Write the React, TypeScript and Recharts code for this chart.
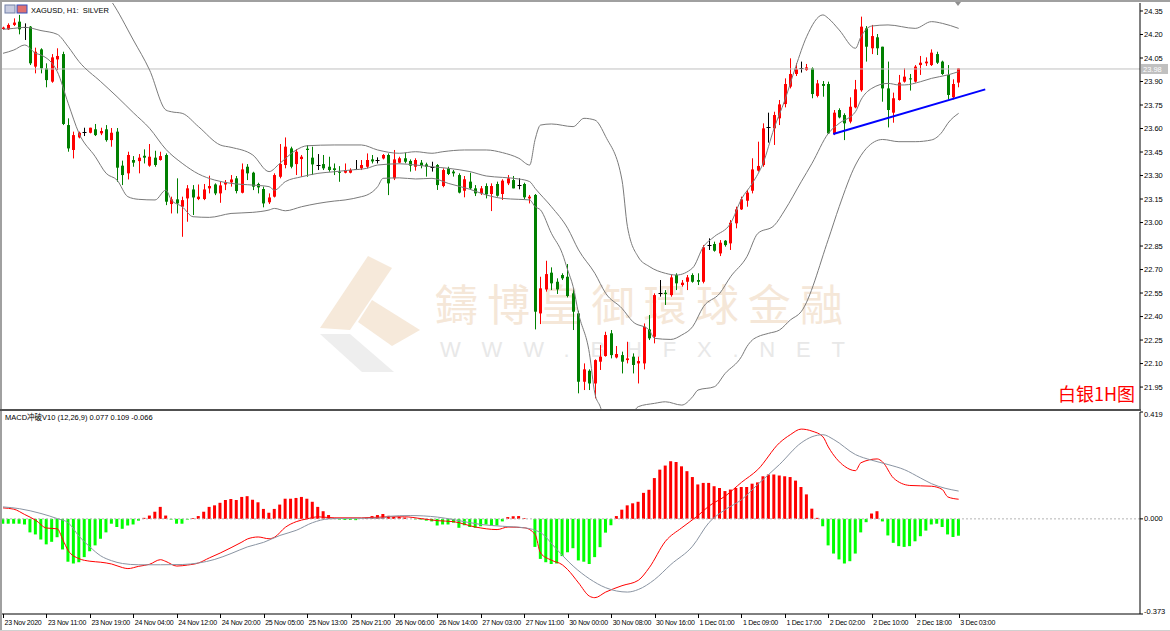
import React from "react";
import { ComposedChart, Bar, Line, XAxis, YAxis, ReferenceLine, Cell } from "recharts";

// XAGUSD H1 candles, bar 0 = 23 Nov 03:00 ... bar 176 = 3 Dec 03:00
const opens = [
  24.235, 24.233, 24.261, 24.282, 24.246, 24.25, 23.995, 24.105, 23.984, 23.899,
  24.041, 24.075, 23.622, 23.463, 23.543, 23.58, 23.573, 23.595, 23.569, 23.595,
  23.526, 23.58, 23.363, 23.314, 23.399, 23.392, 23.426, 23.363, 23.414, 23.399,
  23.431, 23.118, 23.148, 23.101, 23.154, 23.211, 23.15, 23.15, 23.218, 23.243,
  23.186, 23.243, 23.256, 23.282, 23.19, 23.356, 23.318, 23.246, 23.214, 23.129,
  23.165, 23.292, 23.367, 23.473, 23.373, 23.405, 23.471, 23.414, 23.367, 23.373,
  23.356, 23.346, 23.324, 23.318, 23.318, 23.339, 23.346, 23.356, 23.403, 23.399,
  23.409, 23.431, 23.282, 23.382, 23.41, 23.393, 23.356, 23.382, 23.371, 23.356,
  23.367, 23.233, 23.346, 23.325, 23.303, 23.203, 23.261, 23.218, 23.186, 23.233,
  23.182, 23.246, 23.182, 23.25, 23.271, 23.239, 23.246, 23.154, 23.176, 22.42,
  22.573, 22.68, 22.622, 22.665, 22.654, 22.548, 22.42, 21.984, 22.054, 21.973,
  22.112, 22.148, 22.293, 22.139, 22.154, 22.122, 22.144, 22.101, 22.101, 22.318,
  22.271, 22.548, 22.552, 22.537, 22.665, 22.601, 22.622, 22.665, 22.633, 22.622,
  22.856, 22.863, 22.803, 22.884, 22.867, 22.995, 23.084, 23.139, 23.203, 23.331,
  23.367, 23.612, 23.601, 23.665, 23.756, 23.867, 23.948, 23.984, 23.973, 23.984,
  23.808, 23.884, 23.884, 23.565, 23.718, 23.686, 23.644, 23.735, 23.844, 24.239,
  24.112, 24.182, 24.122, 23.856, 23.701, 23.782, 23.899, 23.92, 23.899, 24.005,
  24.016, 24.005, 24.075, 24.027, 23.942, 23.799, 23.893,
];
const highs = [
  24.25, 24.271, 24.303, 24.325, 24.271, 24.254, 24.116, 24.112, 24.016, 24.075,
  24.112, 24.09, 23.665, 23.58, 23.58, 23.605, 23.605, 23.629, 23.605, 23.622,
  23.603, 23.603, 23.395, 23.452, 23.424, 23.437, 23.467, 23.501, 23.458, 23.452,
  23.441, 23.165, 23.282, 23.165, 23.239, 23.239, 23.243, 23.246, 23.299, 23.25,
  23.26, 23.271, 23.303, 23.297, 23.377, 23.373, 23.324, 23.254, 23.229, 23.186,
  23.314, 23.501, 23.543, 23.484, 23.469, 23.431, 23.494, 23.484, 23.437, 23.431,
  23.42, 23.377, 23.36, 23.377, 23.346, 23.399, 23.399, 23.441, 23.431, 23.416,
  23.437, 23.441, 23.463, 23.42, 23.446, 23.403, 23.41, 23.399, 23.382, 23.388,
  23.373, 23.346, 23.356, 23.335, 23.314, 23.297, 23.318, 23.239, 23.233, 23.25,
  23.25, 23.261, 23.276, 23.303, 23.297, 23.282, 23.254, 23.176, 23.182, 22.654,
  22.756, 22.714, 22.644, 22.676, 22.735, 22.573, 22.437, 22.101, 22.063, 22.127,
  22.218, 22.303, 22.314, 22.212, 22.176, 22.239, 22.165, 22.144, 22.356, 22.41,
  22.548, 22.633, 22.569, 22.665, 22.676, 22.633, 22.665, 22.676, 22.676, 22.856,
  22.899, 22.878, 22.888, 22.888, 23.016, 23.101, 23.165, 23.208, 23.41, 23.516,
  23.633, 23.701, 23.707, 23.782, 23.92, 24.048, 24.016, 24.027, 24.012, 23.99,
  23.91, 23.903, 23.899, 23.718, 23.729, 23.697, 23.799, 23.91, 24.314, 24.254,
  24.261, 24.203, 24.122, 24.027, 23.829, 23.942, 23.984, 23.948, 24.005, 24.063,
  24.054, 24.105, 24.09, 24.033, 24.005, 23.914, 23.984,
];
const lows = [
  24.23, 24.229, 24.254, 24.201, 24.165, 24.005, 23.952, 23.952, 23.863, 23.892,
  23.973, 23.622, 23.452, 23.409, 23.537, 23.552, 23.569, 23.552, 23.558, 23.516,
  23.484, 23.26, 23.239, 23.275, 23.356, 23.314, 23.377, 23.356, 23.356, 23.395,
  23.111, 23.058, 23.058, 22.909, 23.005, 23.048, 23.143, 23.143, 23.186, 23.175,
  23.126, 23.207, 23.229, 23.186, 23.186, 23.271, 23.207, 23.186, 23.097, 23.118,
  23.16, 23.282, 23.346, 23.346, 23.303, 23.292, 23.292, 23.303, 23.335, 23.335,
  23.324, 23.303, 23.26, 23.314, 23.314, 23.335, 23.335, 23.346, 23.377, 23.377,
  23.403, 23.175, 23.271, 23.378, 23.378, 23.325, 23.331, 23.346, 23.293, 23.325,
  23.208, 23.225, 23.303, 23.293, 23.186, 23.161, 23.208, 23.169, 23.176, 23.154,
  23.073, 23.165, 23.144, 23.239, 23.218, 23.212, 23.148, 23.122, 22.318, 22.352,
  22.559, 22.569, 22.544, 22.633, 22.522, 22.314, 21.91, 21.931, 21.931, 21.878,
  22.059, 22.144, 22.133, 22.133, 22.037, 22.101, 22.037, 21.973, 22.063, 22.25,
  22.229, 22.527, 22.474, 22.527, 22.569, 22.591, 22.569, 22.616, 22.601, 22.612,
  22.825, 22.814, 22.786, 22.846, 22.825, 22.963, 23.08, 23.101, 23.186, 23.325,
  23.356, 23.51, 23.495, 23.622, 23.735, 23.856, 23.935, 23.957, 23.969, 23.793,
  23.799, 23.803, 23.565, 23.558, 23.665, 23.526, 23.633, 23.729, 23.835, 24.027,
  24.075, 24.069, 23.771, 23.607, 23.637, 23.778, 23.893, 23.842, 23.893, 23.942,
  23.999, 23.999, 24.012, 23.942, 23.786, 23.786, 23.863,
];
const closes = [
  24.244, 24.261, 24.276, 24.233, 24.246, 24.016, 24.09, 23.984, 23.909, 24.054,
  24.063, 23.629, 23.473, 23.558, 23.573, 23.58, 23.605, 23.558, 23.584, 23.526,
  23.573, 23.35, 23.303, 23.431, 23.382, 23.414, 23.414, 23.42, 23.367, 23.424,
  23.133, 23.148, 23.122, 23.143, 23.218, 23.16, 23.165, 23.211, 23.233, 23.186,
  23.237, 23.256, 23.275, 23.201, 23.339, 23.314, 23.229, 23.224, 23.122, 23.16,
  23.303, 23.373, 23.484, 23.356, 23.452, 23.42, 23.463, 23.371, 23.367, 23.346,
  23.335, 23.335, 23.318, 23.335, 23.335, 23.339, 23.367, 23.399, 23.39, 23.399,
  23.431, 23.25, 23.403, 23.41, 23.388, 23.363, 23.399, 23.363, 23.356, 23.356,
  23.239, 23.335, 23.31, 23.314, 23.191, 23.276, 23.218, 23.186, 23.218, 23.18,
  23.233, 23.171, 23.267, 23.282, 23.218, 23.239, 23.161, 23.165, 22.431, 22.58,
  22.671, 22.612, 22.573, 22.644, 22.531, 22.431, 21.984, 22.063, 21.973, 22.122,
  22.144, 22.282, 22.154, 22.161, 22.112, 22.133, 22.091, 22.116, 22.335, 22.261,
  22.537, 22.548, 22.544, 22.65, 22.612, 22.616, 22.65, 22.622, 22.622, 22.842,
  22.856, 22.82, 22.871, 22.856, 22.999, 23.084, 23.148, 23.191, 23.339, 23.361,
  23.601, 23.612, 23.686, 23.754, 23.884, 23.948, 23.978, 23.984, 23.99, 23.82,
  23.888, 23.872, 23.569, 23.701, 23.671, 23.633, 23.739, 23.85, 24.25, 24.122,
  24.19, 24.112, 23.856, 23.718, 23.793, 23.893, 23.931, 23.914, 23.995, 24.02,
  24.027, 24.084, 24.02, 23.948, 23.814, 23.884, 23.984,
];

// Bollinger bands (20), read as [bar, price]
const bbUpper: [number, number][] = [
  [18, 24.5], [20, 24.41], [24, 24.165], [27, 23.973], [30, 23.718], [31, 23.707], [33, 23.697],
  [36, 23.612], [40, 23.495], [42, 23.48], [46, 23.431], [49, 23.325], [51, 23.378], [54, 23.463],
  [56, 23.49], [61, 23.495], [66, 23.495], [69, 23.463], [73, 23.442], [76, 23.452], [79, 23.442],
  [81, 23.452], [85, 23.463], [89, 23.463], [92, 23.446], [95, 23.41], [97, 23.367], [98, 23.53],
  [99, 23.622], [101, 23.629], [105, 23.612], [107, 23.665], [109, 23.654], [111, 23.548],
  [114, 23.271], [115, 22.974], [117, 22.78], [119, 22.72], [122, 22.676], [124, 22.665],
  [127, 22.71], [129, 22.846], [131, 22.91], [134, 22.995], [136, 23.15], [138, 23.25],
  [140, 23.38], [142, 23.6], [144, 23.782], [146, 23.995], [148, 24.186], [151, 24.325],
  [152, 24.303], [154, 24.229], [157, 24.112], [158, 24.186], [160, 24.254], [163, 24.261],
  [168, 24.239], [171, 24.282], [173, 24.271], [176, 24.239],
];
const bbMiddle: [number, number][] = [
  [0, 24.233], [2, 24.239], [4, 24.246], [7, 24.225], [10, 24.201], [12, 24.122], [14, 24.027],
  [18, 23.899], [21, 23.803], [24, 23.701], [27, 23.601], [30, 23.467], [33, 23.378], [36, 23.31],
  [39, 23.271], [42, 23.25], [46, 23.239], [49, 23.229], [50, 23.207], [52, 23.261], [55, 23.292],
  [58, 23.314], [61, 23.324], [64, 23.335], [67, 23.346], [69, 23.367], [73, 23.375], [76, 23.367],
  [79, 23.356], [82, 23.346], [86, 23.325], [89, 23.297], [92, 23.288], [95, 23.278], [97, 23.261],
  [98, 23.218], [101, 23.101], [104, 22.963], [106, 22.825], [109, 22.676], [111, 22.548],
  [114, 22.452], [116, 22.367], [119, 22.314], [120, 22.261], [123, 22.254], [125, 22.282],
  [127, 22.335], [129, 22.463], [132, 22.548], [134, 22.654], [137, 22.782], [139, 22.93],
  [142, 22.98], [144, 23.08], [147, 23.26], [149, 23.378], [152, 23.569], [154, 23.633],
  [157, 23.707], [158, 23.782], [160, 23.856], [163, 23.888], [165, 23.878], [166, 23.878],
  [169, 23.899], [171, 23.92], [174, 23.942], [176, 23.963],
];
const bbLower: [number, number][] = [
  [0, 24.08], [2, 24.101], [4, 24.133], [6, 24.08], [7, 24.069], [10, 23.963], [12, 23.761],
  [14, 23.569], [17, 23.42], [19, 23.314], [21, 23.271], [23, 23.165], [25, 23.148], [28, 23.144],
  [30, 23.207], [31, 23.144], [33, 23.101], [35, 23.037], [38, 23.033], [42, 23.058], [46, 23.065],
  [49, 23.08], [50, 23.09], [52, 23.075], [55, 23.101], [58, 23.122], [61, 23.137], [63, 23.144],
  [66, 23.165], [67, 23.175], [69, 23.229], [70, 23.282], [73, 23.285], [76, 23.278], [79, 23.282],
  [82, 23.25], [86, 23.212], [89, 23.176], [92, 23.154], [95, 23.148], [97, 23.144], [98, 23.101],
  [99, 23.08], [101, 22.931], [103, 22.803], [104, 22.697], [105, 22.591], [106, 22.42],
  [108, 22.165], [109, 21.91], [110, 21.825], [111, 21.72], [113, 21.68], [115, 21.72],
  [117, 21.825], [120, 21.846], [122, 21.856], [125, 21.835], [127, 21.888], [128, 21.931],
  [131, 21.952], [133, 22.037], [136, 22.144], [137, 22.208], [138, 22.25], [139, 22.271],
  [141, 22.293], [143, 22.314], [145, 22.378], [147, 22.431], [152, 22.893], [154, 23.101],
  [157, 23.367], [159, 23.473], [162, 23.53], [165, 23.516], [168, 23.516], [171, 23.527],
  [173, 23.58], [174, 23.633], [176, 23.697],
];

// MACD histogram, one per bar
const macdHist = [
  -0.019, -0.019, -0.019, -0.019, -0.022, -0.053, -0.061, -0.081, -0.1, -0.09,
  -0.072, -0.12, -0.168, -0.175, -0.17, -0.15, -0.127, -0.104, -0.078, -0.053,
  -0.019, -0.032, -0.039, -0.026, -0.022, -0.007, 0.004, 0.013, 0.028, 0.047,
  0.013, -0.003, -0.019, -0.019, -0.003, 0.003, 0.011, 0.028, 0.047, 0.053,
  0.063, 0.074, 0.078, 0.074, 0.086, 0.089, 0.075, 0.065, 0.039, 0.024,
  0.039, 0.056, 0.079, 0.079, 0.082, 0.086, 0.079, 0.067, 0.047, 0.03,
  0.015, 0.004, -0.003, -0.004, -0.004, -0.005, 0, 0.004, 0.011, 0.015,
  0.019, 0.012, 0.008, 0.008, 0.005, 0, -0.002, -0.003, -0.007, -0.01,
  -0.026, -0.022, -0.022, -0.015, -0.035, -0.025, -0.032, -0.035, -0.029, -0.022,
  -0.026, -0.026, -0.01, 0.007, 0.01, 0.011, 0.003, 0, -0.11, -0.157,
  -0.17, -0.177, -0.175, -0.146, -0.131, -0.115, -0.163, -0.168, -0.177, -0.15,
  -0.111, -0.054, -0.025, 0.011, 0.036, 0.053, 0.061, 0.067, 0.102, 0.114,
  0.16, 0.193, 0.209, 0.226, 0.223, 0.206, 0.187, 0.164, 0.135, 0.141,
  0.141, 0.128, 0.121, 0.109, 0.115, 0.121, 0.125, 0.125, 0.138, 0.143,
  0.167, 0.174, 0.174, 0.17, 0.167, 0.164, 0.15, 0.125, 0.096, 0.04,
  0.004, -0.029, -0.104, -0.136, -0.159, -0.175, -0.166, -0.136, -0.053, -0.013,
  0.021, 0.03, -0.01, -0.065, -0.094, -0.107, -0.11, -0.107, -0.088, -0.068,
  -0.046, -0.022, -0.019, -0.032, -0.061, -0.071, -0.066,
];
const macdMain: [number, number][] = [
  [0, 0.043], [2, 0.038], [4, 0.017], [6, -0.005], [8, -0.036], [10, -0.039], [11, -0.081],
  [12, -0.124], [14, -0.156], [16, -0.166], [18, -0.17], [20, -0.177], [22, -0.191], [23, -0.195],
  [25, -0.186], [27, -0.178], [29, -0.16], [30, -0.167], [32, -0.185], [34, -0.181], [36, -0.173],
  [38, -0.153], [40, -0.134], [42, -0.113], [44, -0.091], [45, -0.079], [47, -0.071], [49, -0.078],
  [50, -0.072], [52, -0.033], [54, -0.011], [56, 0], [58, 0.008], [61, 0.004], [66, 0.004],
  [71, 0.008], [74, 0.008], [77, 0.001], [80, -0.007], [83, -0.011], [87, -0.032], [91, -0.042],
  [93, -0.032], [96, -0.035], [98, -0.061], [99, -0.134], [101, -0.162], [103, -0.18],
  [104, -0.199], [106, -0.251], [108, -0.303], [109, -0.309], [111, -0.287], [114, -0.262],
  [117, -0.241], [119, -0.192], [122, -0.088], [125, -0.035], [128, 0.013], [130, 0.05],
  [133, 0.089], [136, 0.143], [139, 0.193], [143, 0.298], [145, 0.33], [147, 0.352], [149, 0.344],
  [151, 0.322], [152, 0.282], [155, 0.206], [157, 0.189], [158, 0.22], [161, 0.235], [162, 0.223],
  [164, 0.16], [167, 0.131], [171, 0.128], [173, 0.115], [174, 0.086], [176, 0.077],
];
const macdSignal: [number, number][] = [
  [0, 0.047], [3, 0.04], [7, 0.021], [10, 0.001], [12, -0.015], [14, -0.068], [16, -0.11],
  [18, -0.145], [20, -0.164], [22, -0.175], [25, -0.18], [29, -0.18], [33, -0.179], [36, -0.173],
  [39, -0.159], [42, -0.136], [45, -0.11], [48, -0.092], [51, -0.065], [54, -0.045], [57, -0.015],
  [60, 0], [64, 0.002], [70, 0.003], [71, 0.01], [75, 0.013], [80, 0.007], [83, -0.003],
  [88, -0.022], [92, -0.029], [96, -0.035], [99, -0.054], [102, -0.12], [105, -0.185],
  [108, -0.235], [111, -0.27], [115, -0.287], [117, -0.277], [120, -0.238], [123, -0.179],
  [127, -0.107], [130, -0.015], [133, 0.036], [136, 0.075], [139, 0.135], [143, 0.213],
  [147, 0.298], [149, 0.322], [151, 0.33], [153, 0.311], [157, 0.252], [160, 0.23], [163, 0.213],
  [166, 0.193], [169, 0.16], [171, 0.138], [176, 0.109],
];

const priceTicks = [24.35, 24.2, 24.05, 23.9, 23.75, 23.6, 23.45, 23.3, 23.15, 23.0, 22.85, 22.7, 22.55, 22.4, 22.25, 22.1, 21.95];
const macdTicks = [0.419, 0, -0.373];
const timeLabels = [
  "23 Nov 2020", "23 Nov 11:00", "23 Nov 19:00", "24 Nov 04:00", "24 Nov 12:00", "24 Nov 20:00",
  "25 Nov 05:00", "25 Nov 13:00", "25 Nov 21:00", "26 Nov 06:00", "26 Nov 14:00", "27 Nov 03:00",
  "27 Nov 11:00", "30 Nov 00:00", "30 Nov 08:00", "30 Nov 16:00", "1 Dec 01:00", "1 Dec 09:00",
  "1 Dec 17:00", "2 Dec 02:00", "2 Dec 10:00", "2 Dec 18:00", "3 Dec 03:00",
];
const timeTickBars = timeLabels.map((_, k) => k * 8);
const lastPrice = 23.98;
const trendLine = [{ x: 152.9, y: 23.565 }, { x: 180.9, y: 23.85 }];

const FONT = "'Liberation Sans', Arial, sans-serif";
const CJK = "'Noto Sans CJK SC', 'Noto Sans CJK TC', sans-serif";
const X_DOMAIN = [-0.184, 209.4];

const rows: any[] = opens.map((o, i) => ({
  i, o, h: highs[i], l: lows[i], c: closes[i], hist: macdHist[i],
}));
bbUpper.forEach(([i, v]) => (rows[i].up = v));
bbMiddle.forEach(([i, v]) => (rows[i].mid = v));
bbLower.forEach(([i, v]) => (rows[i].low = v));
macdMain.forEach(([i, v]) => (rows[i].macd = v));
macdSignal.forEach(([i, v]) => (rows[i].sig = v));

function Candle(props: any) {
  const { x, y, width, height, payload } = props;
  const cx = Math.round(x + width / 2) + 0.5;
  const top = Math.min(y, y + height);
  const bot = Math.max(y, y + height);
  const { o, h, l, c } = payload;
  const span = h - l;
  const py = (p: number) => (span > 0 ? bot - ((p - l) / span) * (bot - top) : top);
  const color = c === o ? "#000000" : c > o ? "#ff0000" : "#008000";
  const bTop = py(Math.max(o, c));
  const bBot = py(Math.min(o, c));
  return (
    <g>
      <line x1={cx} x2={cx} y1={top} y2={bot} stroke={color} strokeWidth={1} />
      {c === o ? (
        <line x1={cx - 2} x2={cx + 2} y1={Math.round(bTop) + 0.5} y2={Math.round(bTop) + 0.5} stroke={color} />
      ) : (
        <rect x={cx - 1.5} y={bTop} width={3} height={Math.max(1, bBot - bTop)} fill={color} />
      )}
    </g>
  );
}

const PriceTick = ({ x, y, payload }: any) => (
  <text x={x} y={y} dy={2.6} fontSize={7.5} fontFamily={FONT} fill="#000">
    {Number(payload.value).toFixed(2)}
  </text>
);

const MacdTick = ({ x, y, payload, index }: any) => (
  <text x={x} y={y} dy={index === 0 ? 5 : index === 2 ? 0 : 2.6} fontSize={7.5} fontFamily={FONT} fill="#000">
    {Number(payload.value).toFixed(3)}
  </text>
);

const TimeTick = ({ x, y, index }: any) => (
  <g>
    <line x1={Math.round(x) + 0.5} x2={Math.round(x) + 0.5} y1={y} y2={y + 4} stroke="#000" />
    <text x={x + 1.5} y={y + 11} fontSize={7} letterSpacing={-0.25} fontFamily={FONT} fill="#000">
      {timeLabels[index]}
    </text>
  </g>
);

const PriceTag = ({ viewBox }: any) => {
  const { x, y, width } = viewBox;
  return (
    <g>
      <rect x={x + width + 1} y={y - 5} width={27} height={10} fill="#c0c0c0" />
      <text x={x + width + 3} y={y + 2.6} fontSize={7.5} fontFamily={FONT} fill="#ffffff">
        {lastPrice.toFixed(2)}
      </text>
    </g>
  );
};

export default function App() {
  return (
    <div style={{ position: "absolute", left: 0, top: 0, width: 1170, height: 631, background: "#fff", overflow: "hidden" }}>
      {/* watermark */}
      <svg width={1170} height={631} style={{ position: "absolute", left: 0, top: 0 }}>
        <polygon points="320,328 368,256 392,268 350,330" fill="#f6e9da" />
        <polygon points="372,300 420,330 392,346 358,322" fill="#f6e9da" />
        <polygon points="320,334 350,334 394,372 362,372" fill="#eeeeee" />
        <text x={435} y={302} dominantBaseline="central" fontSize={43} fontFamily="'Noto Sans CJK TC', 'Noto Sans CJK SC', sans-serif" fill="#f5e7d8" textLength={408} lengthAdjust="spacing">
          鑄博皇御環球金融
        </text>
        <text x={440} y={349} dominantBaseline="central" fontSize={22} fontFamily={FONT} fill="#e8e8e8" textLength={405} lengthAdjust="spacing">
          WWW.BHFX.NET
        </text>
      </svg>

      <div style={{ position: "absolute", left: 0, top: 0 }}>
        <ComposedChart width={1170} height={411} data={rows} margin={{ top: 3, right: 0, bottom: 2, left: 2 }}>
          <XAxis type="number" dataKey="i" domain={X_DOMAIN} hide allowDataOverflow />
          <YAxis
            orientation="right"
            width={30}
            domain={[21.81, 24.401]}
            allowDataOverflow
            ticks={priceTicks}
            interval={0}
            tick={<PriceTick />}
            tickSize={3}
            tickMargin={1}
            axisLine={{ stroke: "#000" }}
            tickLine={{ stroke: "#000" }}
          />
          <ReferenceLine y={lastPrice} stroke="#c0c0c0" label={<PriceTag />} />
          <Line dataKey="up" type="monotone" stroke="#7a7a7a" strokeWidth={1} dot={false} connectNulls isAnimationActive={false} />
          <Line dataKey="mid" type="monotone" stroke="#7a7a7a" strokeWidth={1} dot={false} connectNulls isAnimationActive={false} />
          <Line dataKey="low" type="monotone" stroke="#7a7a7a" strokeWidth={1} dot={false} connectNulls isAnimationActive={false} />
          <Bar dataKey={(d: any) => [d.l, d.h]} barSize={3} shape={<Candle />} isAnimationActive={false} />
          <ReferenceLine segment={trendLine} stroke="#0000ff" strokeWidth={2} />
        </ComposedChart>
      </div>

      <div style={{ position: "absolute", left: 0, top: 411 }}>
        <ComposedChart width={1170} height={220} data={rows} margin={{ top: 1, right: 0, bottom: 0, left: 2 }}>
          <XAxis
            type="number"
            dataKey="i"
            domain={X_DOMAIN}
            allowDataOverflow
            ticks={timeTickBars}
            interval={0}
            height={17}
            tick={<TimeTick />}
            tickLine={false}
            tickSize={0}
            tickMargin={0}
            axisLine={{ stroke: "#000" }}
          />
          <YAxis
            orientation="right"
            width={30}
            domain={[-0.373, 0.419]}
            allowDataOverflow
            ticks={macdTicks}
            interval={0}
            tick={<MacdTick />}
            tickSize={3}
            tickMargin={1}
            axisLine={{ stroke: "#000" }}
            tickLine={{ stroke: "#000" }}
          />
          <ReferenceLine y={0} stroke="#b4b4b4" strokeDasharray="2 2" />
          <Bar dataKey="hist" barSize={3} isAnimationActive={false}>
            {rows.map((r, k) => (
              <Cell key={k} fill={r.hist >= 0 ? "#ff0000" : "#00ff00"} />
            ))}
          </Bar>
          <Line dataKey="macd" type="monotone" stroke="#ff0000" strokeWidth={1} dot={false} connectNulls isAnimationActive={false} />
          <Line dataKey="sig" type="monotone" stroke="#8a94a2" strokeWidth={1} dot={false} connectNulls isAnimationActive={false} />
        </ComposedChart>
      </div>

      {/* frame and labels */}
      <svg width={1170} height={631} style={{ position: "absolute", left: 0, top: 0, pointerEvents: "none" }}>
        <rect x={0} y={0} width={1170} height={2} fill="#a0a0a0" />
        <rect x={0} y={0} width={2} height={631} fill="#a0a0a0" />
        <rect x={0} y={409} width={1141} height={2} fill="#505050" />
        <rect x={0} y={630} width={1170} height={1} fill="#d0d0d0" />
        <polygon points="955,2 961,2 958,6" fill="#909090" />
        <rect x={5} y={5} width={10} height={8} fill="#c8cce0" stroke="#7080a8" strokeWidth={1} />
        <rect x={17} y={5} width={10} height={8} fill="#e07070" stroke="#3050c0" strokeWidth={1} />
        <text x={31} y={12.5} fontSize={7.5} fontFamily={FONT} fill="#000">
          XAGUSD, H1:{"\u00a0\u00a0"}SILVER
        </text>
        <text x={5} y={420} fontSize={7.5} fontFamily={`'Liberation Sans', Arial, ${CJK}`} fill="#000">
          MACD冲破V10 (12,26,9) 0.077 0.109 -0.066
        </text>
        <text x={1058} y={401} fontSize={18} fontFamily={CJK} fill="#ff0000">
          白银1H图
        </text>
      </svg>
    </div>
  );
}
